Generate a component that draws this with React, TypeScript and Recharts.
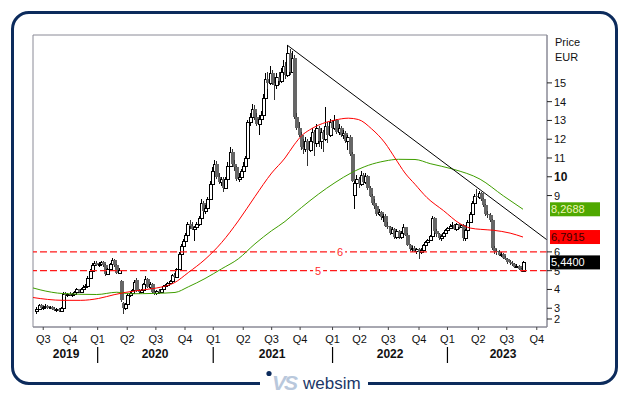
import React from 'react';
import {
  ComposedChart,
  Bar,
  Line,
  XAxis,
  YAxis,
  ReferenceLine,
  ReferenceArea,
  ReferenceDot,
} from 'recharts';

// weekly bars [open, high, low, close], first bar mid June 2019
const candles: [number, number, number, number][] = [
  [2.85, 3.05, 2.7, 2.95], [2.95, 3.25, 2.9, 3.15], [3.15, 3.2, 2.95, 3.0], [3.0, 3.1, 2.9, 3.05],
  [3.05, 3.2, 2.95, 3.1], [3.1, 3.15, 2.95, 3.0], [3.0, 3.1, 2.95, 3.05], [3.05, 3.1, 2.9, 2.95],
  [2.95, 3.05, 2.85, 2.9], [2.9, 3.0, 2.8, 2.95], [2.95, 3.0, 2.8, 2.85], [2.85, 3.05, 2.8, 3.0],
  [3.0, 3.85, 2.95, 3.75], [3.75, 3.85, 3.6, 3.7], [3.7, 3.8, 3.6, 3.75], [3.75, 3.85, 3.65, 3.7],
  [3.7, 3.8, 3.6, 3.75], [3.75, 3.9, 3.7, 3.85], [3.85, 4.1, 3.8, 4.0], [4.0, 4.05, 3.8, 3.85],
  [3.85, 4.1, 3.8, 4.05], [4.05, 4.25, 4.0, 4.15], [4.15, 4.3, 4.05, 4.2], [4.2, 4.7, 4.15, 4.6],
  [4.6, 5.1, 4.55, 5.0], [5.0, 5.4, 4.95, 5.3], [5.3, 5.5, 5.2, 5.4], [5.4, 5.5, 5.25, 5.3],
  [5.3, 5.45, 5.2, 5.35], [5.35, 5.5, 5.25, 5.45], [5.45, 5.5, 5.2, 5.3], [5.3, 5.35, 4.7, 4.8],
  [4.8, 5.15, 4.75, 5.1], [5.1, 5.4, 5.05, 5.35], [5.35, 5.65, 5.3, 5.55], [5.55, 5.6, 5.2, 5.3],
  [5.3, 5.35, 4.8, 4.9], [4.9, 5.15, 4.85, 5.05], [4.45, 4.5, 3.35, 3.45], [3.3, 3.35, 2.7, 3.0],
  [3.0, 3.3, 2.9, 3.2], [3.2, 3.75, 3.15, 3.7], [3.7, 3.9, 3.6, 3.8], [3.8, 4.05, 3.7, 3.95],
  [3.95, 4.5, 3.9, 4.4], [4.5, 4.6, 3.85, 3.9], [3.9, 4.0, 3.75, 3.85], [3.85, 4.05, 3.8, 3.95],
  [3.95, 4.35, 3.9, 4.3], [4.3, 4.7, 4.2, 4.55], [4.55, 4.6, 4.1, 4.15], [4.15, 4.4, 4.0, 4.3],
  [4.3, 4.35, 3.8, 3.85], [3.85, 3.95, 3.7, 3.8], [3.8, 3.95, 3.7, 3.9], [3.9, 4.0, 3.75, 3.85],
  [3.85, 4.05, 3.8, 4.0], [4.0, 4.25, 3.95, 4.2], [4.2, 4.3, 4.1, 4.25], [4.25, 4.4, 4.15, 4.35],
  [4.35, 4.5, 4.3, 4.45], [4.45, 4.8, 4.4, 4.75], [4.75, 4.9, 4.55, 4.65], [4.65, 5.15, 4.6, 5.1],
  [5.1, 6.0, 5.05, 5.9], [5.9, 6.4, 5.8, 6.3], [6.3, 6.7, 6.2, 6.6], [6.6, 7.0, 6.5, 6.9],
  [6.9, 7.6, 6.85, 7.5], [7.5, 7.7, 7.2, 7.4], [7.4, 7.6, 7.15, 7.2], [7.2, 7.4, 6.6, 7.3],
  [7.3, 7.6, 7.2, 7.5], [7.5, 7.9, 7.4, 7.8], [7.8, 8.8, 7.75, 8.6], [8.6, 8.7, 8.1, 8.2],
  [8.2, 8.5, 8.0, 8.35], [8.35, 8.9, 8.3, 8.8], [8.8, 9.8, 8.75, 9.6], [9.6, 10.5, 9.5, 10.3],
  [10.3, 10.9, 10.2, 10.7], [10.7, 10.85, 9.9, 10.0], [10.0, 10.2, 9.6, 9.7], [9.7, 10.0, 9.5, 9.9],
  [9.9, 10.0, 9.2, 9.4], [9.4, 10.0, 9.35, 9.9], [9.9, 10.8, 9.85, 10.6], [10.6, 11.6, 10.5, 11.3],
  [11.3, 11.5, 10.6, 10.7], [10.7, 10.9, 10.3, 10.5], [10.5, 10.6, 9.8, 9.9], [9.9, 10.2, 9.7, 10.0],
  [10.0, 10.4, 9.9, 10.3], [10.3, 10.8, 10.2, 10.6], [10.6, 11.1, 10.5, 11.0], [11.0, 13.0, 10.95, 12.9],
  [12.9, 13.4, 12.7, 13.2], [13.2, 13.9, 13.0, 13.6], [13.6, 13.8, 13.0, 13.2], [13.2, 13.4, 12.7, 12.8],
  [12.8, 13.3, 12.2, 13.1], [13.1, 13.5, 12.9, 13.3], [13.3, 14.4, 13.2, 14.2], [14.2, 15.5, 14.1, 15.2],
  [15.2, 15.6, 14.7, 15.0], [15.0, 15.9, 14.9, 15.5], [15.5, 15.7, 14.9, 15.0], [15.0, 15.3, 14.1, 14.9],
  [14.9, 15.5, 14.7, 15.3], [15.3, 15.6, 14.9, 15.1], [15.1, 15.8, 15.0, 15.6], [15.6, 16.2, 15.4, 15.9],
  [15.9, 16.1, 15.2, 15.4], [15.4, 17.0, 15.3, 16.6], [16.6, 16.8, 15.4, 15.6], [15.6, 16.7, 15.5, 16.3],
  [16.3, 16.5, 13.1, 13.2], [13.2, 13.4, 12.5, 12.6], [12.6, 12.9, 12.1, 12.2], [12.2, 12.4, 11.4, 11.6],
  [11.6, 12.0, 11.2, 11.5], [11.5, 12.1, 11.3, 11.9], [11.9, 12.0, 10.6, 11.4], [11.4, 12.1, 11.3, 11.9],
  [11.9, 12.6, 11.7, 12.4], [12.4, 12.5, 11.1, 11.8], [11.8, 12.8, 11.6, 12.6], [12.6, 12.7, 11.6, 11.9],
  [11.9, 12.6, 11.5, 12.4], [12.4, 12.5, 11.3, 12.0], [12.0, 13.7, 11.9, 12.7], [12.7, 12.9, 11.8, 12.2],
  [12.2, 13.1, 12.1, 12.9], [12.9, 13.0, 12.3, 12.6], [12.6, 13.3, 12.5, 13.0], [13.0, 13.1, 12.3, 12.4],
  [12.4, 12.8, 12.2, 12.6], [12.6, 12.7, 12.1, 12.2], [12.2, 12.5, 12.0, 12.35], [12.35, 12.45, 11.8, 11.9],
  [11.9, 12.2, 11.45, 12.1], [12.1, 12.2, 11.1, 11.2], [11.2, 11.3, 9.7, 9.8], [9.05, 9.8, 8.3, 9.65],
  [9.65, 10.1, 9.5, 9.9], [9.9, 10.0, 9.4, 9.6], [9.6, 10.3, 9.5, 10.1], [10.1, 10.2, 9.6, 9.7],
  [9.7, 10.2, 9.6, 10.05], [10.05, 10.1, 9.3, 9.4], [9.4, 9.5, 8.9, 9.0], [9.0, 9.1, 8.5, 8.6],
  [8.6, 8.8, 8.3, 8.45], [8.45, 8.5, 7.9, 8.0], [8.0, 8.3, 7.9, 8.15], [8.15, 8.2, 7.7, 7.85],
  [7.85, 8.0, 7.6, 7.9], [7.9, 8.0, 7.3, 7.4], [7.4, 7.6, 7.2, 7.3], [7.3, 7.4, 6.9, 7.0],
  [7.0, 7.3, 6.95, 7.2], [7.2, 7.25, 6.7, 6.8], [6.8, 7.2, 6.7, 7.1], [7.1, 7.15, 6.7, 6.8],
  [6.8, 7.1, 6.7, 7.0], [7.0, 7.5, 6.95, 7.3], [7.3, 7.35, 6.85, 6.9], [6.9, 7.0, 6.3, 6.35],
  [6.35, 6.4, 6.05, 6.15], [6.15, 6.3, 6.0, 6.2], [6.2, 6.3, 6.0, 6.05], [6.05, 6.2, 5.9, 6.15],
  [6.15, 6.2, 5.6, 6.0], [6.0, 6.2, 5.9, 6.1], [6.1, 6.4, 6.05, 6.35], [6.35, 6.6, 6.3, 6.5],
  [6.5, 6.7, 6.4, 6.65], [6.65, 6.9, 6.6, 6.85], [6.85, 7.9, 6.8, 7.8], [7.8, 7.85, 7.0, 7.1],
  [7.1, 7.2, 6.8, 6.95], [6.95, 7.0, 6.65, 6.75], [6.75, 6.9, 6.6, 6.85], [6.85, 7.05, 6.8, 7.0],
  [7.0, 7.2, 6.95, 7.15], [7.15, 7.3, 7.0, 7.25], [7.25, 7.5, 7.2, 7.4], [7.4, 7.6, 7.3, 7.45],
  [7.45, 7.5, 7.15, 7.2], [7.2, 7.55, 7.1, 7.5], [7.5, 7.55, 7.2, 7.3], [7.3, 7.5, 7.25, 7.45],
  [7.45, 7.5, 6.6, 6.75], [6.75, 7.2, 6.6, 7.15], [7.15, 7.7, 7.1, 7.6], [7.6, 8.1, 7.55, 8.0],
  [8.0, 8.7, 7.95, 8.6], [8.6, 9.1, 8.5, 9.0], [9.0, 9.35, 8.85, 8.9], [8.9, 9.25, 8.8, 9.15],
  [9.15, 9.2, 8.7, 8.8], [8.8, 8.85, 8.4, 8.5], [8.5, 8.55, 7.9, 8.0], [8.0, 8.2, 7.8, 7.95],
  [7.95, 8.05, 7.6, 7.7], [7.7, 7.75, 6.1, 6.2], [6.2, 6.3, 5.9, 6.05], [6.05, 6.15, 5.85, 6.0],
  [6.0, 6.1, 5.8, 5.85], [5.85, 6.0, 5.75, 5.9], [5.9, 5.95, 5.6, 5.7], [5.7, 5.8, 5.55, 5.6],
  [5.6, 5.65, 5.35, 5.45], [5.45, 5.55, 5.3, 5.4], [5.4, 5.5, 5.25, 5.35], [5.35, 5.4, 5.15, 5.2],
  [5.2, 5.35, 5.15, 5.25], [5.25, 5.3, 5.05, 5.1], [5.1, 5.15, 4.95, 5.0], [5.0, 5.5, 4.98, 5.44],
];

// moving averages: [week, price]
const redAverage: [number, number][] = [
  [-1.5, 3.57], [5, 3.47], [12, 3.42], [20, 3.42], [28, 3.52], [35, 3.72], [40, 3.84],
  [45, 3.93], [52, 4.04], [56, 4.12], [62, 4.35], [68.4, 4.9], [75.9, 5.6], [83.4, 6.5],
  [90.9, 7.65], [98.4, 8.95], [105.9, 10.2], [111.9, 11.0], [116, 11.7], [119.5, 12.2],
  [123, 12.5], [127, 12.75], [134.4, 13.02], [140.4, 13.12], [144.9, 13.05], [150.9, 12.55],
  [156.9, 11.8], [161.4, 11.0], [165.9, 10.2], [170.4, 9.6], [175.7, 8.9], [183.2, 8.2],
  [190.7, 7.5], [195.2, 7.27], [200, 7.2], [205.7, 7.15], [213.2, 7.0], [219, 6.79],
];
const greenAverage: [number, number][] = [
  [-1.5, 4.08], [1.7, 3.98], [12.1, 3.78], [27.2, 3.73], [36.2, 3.85], [42.2, 3.77],
  [53.4, 3.79], [62.4, 3.84], [68.4, 4.14], [75.9, 4.58], [83.4, 5.1], [90.9, 5.63],
  [98.4, 6.43], [105.9, 7.13], [111.9, 7.62], [114.2, 7.85], [119.4, 8.37], [126.9, 9.07],
  [134.4, 9.69], [141.9, 10.22], [149.4, 10.61], [156.9, 10.84], [162.9, 10.93], [170.4, 10.92],
  [177.2, 10.7], [187.7, 10.4], [199.7, 9.87], [210.2, 8.98], [219, 8.27],
];

const quarterPos = [3.1, 15.2, 27.6, 40.9, 53.8, 66.9, 79.6, 93.1, 105.9, 118.7, 133.3, 145.5, 158.4, 172.2, 185.0, 198.9, 211.7, 225.2];
const quarterNames = ['Q3', 'Q4', 'Q1', 'Q2', 'Q3', 'Q4', 'Q1', 'Q2', 'Q3', 'Q4', 'Q1', 'Q2', 'Q3', 'Q4', 'Q1', 'Q2', 'Q3', 'Q4'];
const yearPos = [13.4, 53.4, 106.1, 159.2, 210.0];
const yearNames = ['2019', '2020', '2021', '2022', '2023'];
// 7 and 8 sit under the value boxes
const priceTicks = [2, 3, 4, 5, 6, 9, 10, 11, 12, 13, 14, 15];

const supportLevels = [6, 5];
const supportLabelAt = [136.7, 126.8];
const trendFrom = { x: 113, y: 17.0 };
const trendTo = { x: 229.8, y: 6.64 };

const lastValues = [8.2688, 6.7915, 5.44];
const lastTexts = ['8,2688', '6,7915', '5,4400'];
const lastFills = ['#4fa800', '#ff0000', '#000000'];
const lastInk = ['#f2f5b8', '#3a0000', '#ffffff'];

const FONT = '"Liberation Sans", Arial, sans-serif';
const X_DOMAIN: [number, number] = [-1.5, 229.8];
const Y_DOMAIN: [number, number] = [2, 17.55];
const FRAME = '#8a8a96';
const NAVY = '#0c2b5c';

const candleData = candles.map((c, i) => ({
  week: i,
  range: [c[2], c[1]],
  o: c[0],
  h: c[1],
  l: c[2],
  c: c[3],
}));
const redData = redAverage.map(([week, v]) => ({ week, v }));
const greenData = greenAverage.map(([week, v]) => ({ week, v }));

function Candle(props: any) {
  const { x, y, width, height, payload } = props;
  if (!payload || height == null) return null;
  const { o, h, l, c } = payload;
  const mid = Math.round(x + width / 2);
  const toY = (p: number) => y + ((h - p) / (h - l)) * height;
  const top = Math.round(toY(Math.max(o, c)));
  const bodyH = Math.max(1, Math.round(toY(Math.min(o, c))) - top);
  const up = c >= o;
  return (
    <g shapeRendering="crispEdges">
      <line x1={mid + 0.5} x2={mid + 0.5} y1={y} y2={y + height} stroke={up ? '#000' : '#333'} />
      {up ? (
        <rect x={mid - 0.5} y={top + 0.5} width={3} height={bodyH} fill="#fff" stroke="#000" />
      ) : (
        <rect x={mid - 1} y={top} width={4} height={bodyH} fill="#666" />
      )}
    </g>
  );
}

function PriceTick(props: any) {
  const { x, y, payload } = props;
  const v = payload.value;
  const ty = v === 2 ? y - 8 : y;
  return (
    <g>
      <line x1={x - 7} x2={x - 2} y1={ty} y2={ty} stroke="#222" />
      <text x={x} y={ty} dy="0.36em" fontSize={v === 10 ? 12 : 11} fontWeight={v === 10 ? 'bold' : 'normal'} fill="#111" fontFamily={FONT}>
        {v}
      </text>
    </g>
  );
}

function QuarterTick(props: any) {
  const { x, y, payload } = props;
  const k = quarterPos.indexOf(payload.value);
  const name = quarterNames[k];
  return (
    <g>
      <text x={x} y={y} dy="0.71em" textAnchor="middle" fontSize={11} fill="#111" fontFamily={FONT}>
        {name}
      </text>
      {name === 'Q1' && <line x1={x} x2={x} y1={y + 12} y2={y + 28} stroke="#000" strokeWidth={1.2} />}
    </g>
  );
}

function YearTick(props: any) {
  const { x, y, payload } = props;
  const k = yearPos.indexOf(payload.value);
  return (
    <text x={x} y={y + 9} textAnchor="middle" fontSize={12} fontWeight="bold" fill="#111" fontFamily={FONT}>
      {yearNames[k]}
    </text>
  );
}

function LevelLabel(props: any, text: string) {
  const { cx, cy } = props;
  return (
    <g>
      <rect x={cx - 5} y={cy - 6} width={10} height={12} fill="#fff" />
      <text x={cx} y={cy} dy="0.36em" textAnchor="middle" fontSize={11} fill="#ff2a2a" fontFamily={FONT}>
        {text}
      </text>
    </g>
  );
}

function ValueBox(props: any, k: number) {
  const { cx, cy } = props;
  return (
    <g>
      <rect x={cx + 3} y={cy - 7} width={50} height={14} fill={lastFills[k]} />
      <text x={cx + 4} y={cy} dy="0.36em" fontSize={11} fill={lastInk[k]} fontFamily={FONT}>
        {lastTexts[k]}
      </text>
    </g>
  );
}

function Logo() {
  return (
    <svg width={108} height={26} style={{ position: 'absolute', left: 260, top: 369 }}>
      <rect x={0} y={0} width={108} height={26} fill="#fff" />
      <circle cx={9} cy={4.5} r={2.6} fill={NAVY} />
      <text x={12} y={21} fontSize={21} fontWeight="bold" fontStyle="italic" fill="#b9c8dc" fontFamily={FONT} letterSpacing={-2}>
        VS
      </text>
      <text x={43} y={19.5} fontSize={17} fill="#1b3768" fontFamily={FONT}>
        websim
      </text>
    </svg>
  );
}

export default function App() {
  return (
    <div style={{ position: 'absolute', left: 0, top: 0, width: 629, height: 395, background: '#fff', fontFamily: FONT }}>
      <div
        style={{
          position: 'absolute',
          left: 11,
          top: 11,
          width: 607,
          height: 374,
          border: `3.5px solid ${NAVY}`,
          borderRadius: 18,
          boxSizing: 'border-box',
        }}
      />
      <ComposedChart width={629} height={395} data={candleData} margin={{ top: 35, right: 22, bottom: 18, left: 33 }}>
        <XAxis
          dataKey="week"
          type="number"
          domain={X_DOMAIN}
          ticks={quarterPos}
          interval={0}
          allowDataOverflow
          height={22}
          tickSize={3}
          tickMargin={5}
          tickLine={{ stroke: '#444' }}
          axisLine={{ stroke: FRAME }}
          tick={<QuarterTick />}
        />
        <XAxis
          xAxisId="yr"
          dataKey="week"
          type="number"
          domain={X_DOMAIN}
          ticks={yearPos}
          interval={0}
          allowDataOverflow
          height={28}
          tickSize={0}
          tickMargin={0}
          tickLine={false}
          axisLine={false}
          tick={<YearTick />}
        />
        <YAxis
          orientation="right"
          type="number"
          domain={Y_DOMAIN}
          ticks={priceTicks}
          interval={0}
          allowDataOverflow
          width={60}
          tickSize={5}
          tickMargin={2}
          tickLine={false}
          axisLine={{ stroke: FRAME }}
          tick={<PriceTick />}
        />
        <ReferenceArea x1={X_DOMAIN[0]} x2={X_DOMAIN[1]} y1={Y_DOMAIN[0]} y2={Y_DOMAIN[1]} fill="none" stroke={FRAME} ifOverflow="visible" />
        {supportLevels.map((lv) => (
          <ReferenceLine key={lv} y={lv} stroke="#ff1a1a" strokeWidth={1.2} strokeDasharray="7 3" />
        ))}
        <Bar dataKey="range" barSize={2} shape={<Candle />} isAnimationActive={false} />
        <Line data={greenData} dataKey="v" type="monotone" stroke="#3f9e00" strokeWidth={1} dot={false} isAnimationActive={false} />
        <Line data={redData} dataKey="v" type="monotone" stroke="#ff0000" strokeWidth={1} dot={false} isAnimationActive={false} />
        <ReferenceLine segment={[trendFrom, trendTo]} stroke="#000" strokeWidth={1} />
        {supportLevels.map((lv, k) => (
          <ReferenceDot key={'l' + lv} x={supportLabelAt[k]} y={lv} r={0} shape={(p: any) => LevelLabel(p, String(lv))} />
        ))}
        {lastValues.map((v, k) => (
          <ReferenceDot key={'v' + k} x={X_DOMAIN[1]} y={v} r={0} ifOverflow="visible" shape={(p: any) => ValueBox(p, k)} />
        ))}
      </ComposedChart>
      <div style={{ position: 'absolute', left: 555, top: 36, fontSize: 11, lineHeight: '12px', color: '#111' }}>Price</div>
      <div style={{ position: 'absolute', left: 555, top: 51, fontSize: 11, lineHeight: '12px', color: '#111' }}>EUR</div>
      <Logo />
    </div>
  );
}
